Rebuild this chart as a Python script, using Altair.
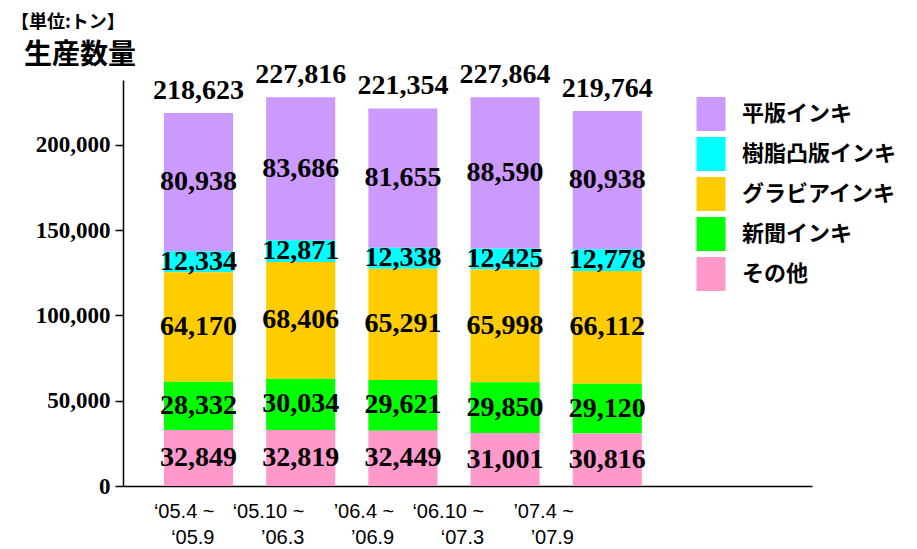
import altair as alt
import pandas as pd

periods = ["‘05.4 ~\n‘05.9", "‘05.10 ~\n’06.3", "’06.4 ~\n’06.9", "‘06.10 ~\n‘07.3", "’07.4 ~\n’07.9"]
categories = ["平版インキ", "樹脂凸版インキ", "グラビアインキ", "新聞インキ", "その他"]
colors = ["#CC99FF", "#00FFFF", "#FFCC00", "#00FF00", "#FF99CC"]
heihan = [80938, 83686, 81655, 88590, 80938]
jushi = [12334, 12871, 12338, 12425, 12778]
gravure = [64170, 68406, 65291, 65998, 66112]
shinbun = [28332, 30034, 29621, 29850, 29120]
sonota = [32849, 32819, 32449, 31001, 30816]
totals = [218623, 227816, 221354, 227864, 219764]
y_ticks = [0, 50000, 100000, 150000, 200000]

series = [heihan, jushi, gravure, shinbun, sonota]
rows = []
for ci, (cat, vals) in enumerate(zip(categories, series)):
    for p, v in zip(periods, vals):
        rows.append({"period": p, "cat": cat, "value": v, "order": 4 - ci})
df = pd.DataFrame(rows)
tot_df = pd.DataFrame({"period": periods, "total": totals})

SERIF = "Liberation Serif"
CJK = "Noto Sans CJK JP"

# one empty slot at the right keeps the axis line running past the last bar
x_domain = periods + [" "]
xscale = alt.Scale(type="band", domain=x_domain, paddingInner=0.324, paddingOuter=0.533, align=0.376)
yscale = alt.Scale(domain=[0, 238000], nice=False)

base = alt.Chart(df)

bars = base.mark_bar().encode(
    x=alt.X("period:N", scale=xscale, sort=x_domain,
            axis=alt.Axis(title=None, labels=False, ticks=False, domainColor="black", domainWidth=1.5)),
    y=alt.Y("value:Q", stack="zero", scale=yscale,
            axis=alt.Axis(title=None, values=y_ticks, format=",d", grid=False,
                          domainColor="black", domainWidth=1.5, tickColor="black", tickWidth=1.5,
                          tickSize=8, labelPadding=5, labelFont=SERIF, labelFontSize=23,
                          labelFontWeight="bold", labelColor="black")),
    color=alt.Color("cat:N", scale=alt.Scale(domain=categories, range=colors),
                    legend=alt.Legend(title=None, orient="none", legendX=571, legendY=17,
                                      symbolType="M-0.853,-1H0.853V1H-0.853Z", symbolSize=1156,
                                      symbolStrokeWidth=0, symbolOpacity=1, labelFont=CJK, labelFontSize=22,
                                      labelFontWeight="bold", labelColor="black", labelOffset=14,
                                      rowPadding=6, labelLimit=300)),
    order=alt.Order("order:Q", sort="ascending"),
)

seg_labels = base.transform_stack(
    stack="value", groupby=["period"], sort=[alt.SortField("order", order="ascending")], as_=["v0", "v1"]
).transform_calculate(mid="(datum.v0 + datum.v1) / 2").mark_text(
    font=SERIF, fontSize=28, fontWeight="bold", color="black", baseline="middle"
).encode(
    x=alt.X("period:N", scale=xscale, sort=x_domain, axis=None),
    y=alt.Y("mid:Q", scale=yscale),
    text=alt.Text("value:Q", format=",d"),
)

tot_labels = alt.Chart(tot_df).mark_text(
    font=SERIF, fontSize=28, fontWeight="bold", color="black", baseline="alphabetic", dy=-14
).encode(
    x=alt.X("period:N", scale=xscale, sort=x_domain, axis=None),
    y=alt.Y("total:Q", scale=yscale),
    text=alt.Text("total:Q", format=",d"),
)

xlabels = alt.Chart(tot_df).mark_text(
    font="Liberation Sans", fontSize=20, color="black", align="right", baseline="alphabetic",
    lineBreak="\n", lineHeight=26
).encode(
    x=alt.X("period:N", sort=periods, scale=alt.Scale(type="point", domain=periods, range=[91.5, 451], padding=0),
            axis=None),
    y=alt.value(438),
    text="period:N",
)

unit = alt.Chart(pd.DataFrame({"t": ["【単位:トン】"]})).mark_text(
    font=CJK, fontSize=18, fontWeight="bold", color="black", align="left", baseline="middle"
).encode(x=alt.value(-112), y=alt.value(-57), text="t:N")

ylabel = alt.Chart(pd.DataFrame({"t": ["生産数量"]})).mark_text(
    font=CJK, fontSize=28, fontWeight="bold", color="black", align="left", baseline="middle"
).encode(x=alt.value(-99), y=alt.value(-24), text="t:N")

chart = alt.layer(bars, seg_labels, tot_labels, xlabels, unit, ylabel).resolve_scale(
    x="independent"
).properties(
    width=689, height=406,
    autosize=alt.AutoSizeParams(type="none"),
    padding={"left": 115, "top": 72, "right": 97, "bottom": 65},
).configure_view(stroke=None).configure_axis(labelColor="black")

chart.save("out.html", embed_options={"renderer": "svg", "actions": False})
